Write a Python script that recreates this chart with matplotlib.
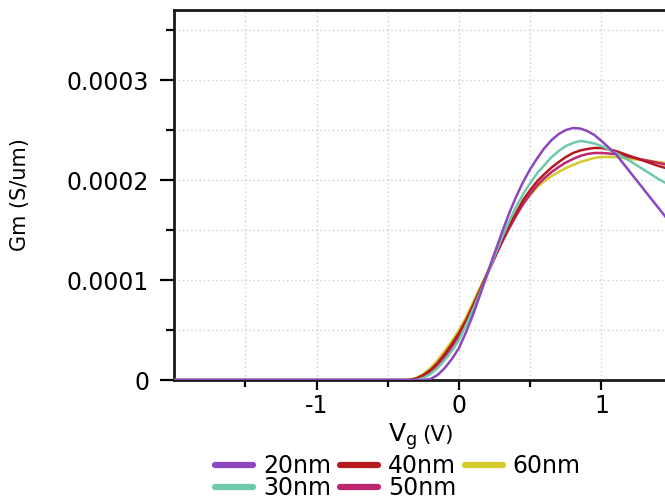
import matplotlib
matplotlib.use("Agg")
import matplotlib.pyplot as plt
from matplotlib.ticker import FixedLocator, FixedFormatter

plt.rcParams['font.family'] = ['DejaVu Sans']
plt.rcParams['axes.unicode_minus'] = False

# ---- data (Gm in units of 1e-4 S/um) ----
vg = [-2.0, -0.4, -0.35, -0.3, -0.25, -0.2, -0.15, -0.1, -0.05, 0.0, 0.05, 0.1, 0.15,
      0.2, 0.25, 0.3, 0.35, 0.4, 0.45, 0.5, 0.55, 0.6, 0.65, 0.7, 0.75, 0.8, 0.85, 0.9,
      0.95, 1.0, 1.1, 1.2, 1.3, 1.4, 1.5]
gm20 = [0, 0, 0, 0, 0, 0.01, 0.05, 0.12, 0.21, 0.32, 0.48, 0.66, 0.86, 1.07, 1.27, 1.47,
        1.66, 1.83, 1.98, 2.11, 2.22, 2.32, 2.40, 2.46, 2.50, 2.52, 2.515, 2.49, 2.45,
        2.39, 2.26, 2.08, 1.90, 1.72, 1.54]
gm30 = [0, 0, 0, 0, 0.02, 0.06, 0.12, 0.20, 0.29, 0.40, 0.55, 0.71, 0.88, 1.06, 1.24, 1.42,
        1.58, 1.73, 1.86, 1.97, 2.07, 2.15, 2.23, 2.29, 2.34, 2.37, 2.39, 2.38, 2.365,
        2.34, 2.27, 2.19, 2.10, 2.01, 1.93]
gm40 = [0, 0, 0, 0.015, 0.05, 0.10, 0.17, 0.26, 0.36, 0.47, 0.60, 0.75, 0.91, 1.07, 1.23, 1.39,
        1.54, 1.67, 1.80, 1.90, 1.99, 2.06, 2.125, 2.18, 2.23, 2.27, 2.295, 2.31, 2.32,
        2.32, 2.29, 2.24, 2.19, 2.14, 2.10]
gm50 = [0, 0, 0, 0.01, 0.04, 0.08, 0.15, 0.23, 0.33, 0.44, 0.58, 0.73, 0.89, 1.06, 1.22, 1.37,
        1.51, 1.64, 1.76, 1.86, 1.95, 2.02, 2.08, 2.13, 2.175, 2.21, 2.24, 2.26, 2.27,
        2.27, 2.26, 2.23, 2.20, 2.17, 2.14]
gm60 = [0, 0, 0, 0.02, 0.06, 0.12, 0.20, 0.29, 0.39, 0.50, 0.63, 0.78, 0.93, 1.08, 1.24, 1.39,
        1.53, 1.65, 1.76, 1.85, 1.93, 1.99, 2.04, 2.08, 2.12, 2.15, 2.18, 2.20, 2.22,
        2.23, 2.23, 2.21, 2.20, 2.18, 2.16]
SCALE = 1e-4

labels = ['20nm', '30nm', '40nm', '50nm', '60nm']
series = [gm20, gm30, gm40, gm50, gm60]
colors = ['#8C47C0', '#6CC9A9', '#B51A1E', '#BE2670', '#D6CB2C']

yticks = [0, 1e-4, 2e-4, 3e-4]
ytick_labels = ['0', '0.0001', '0.0002', '0.0003']
yminor = [0.5e-4, 1.5e-4, 2.5e-4, 3.5e-4]
xticks = [-1, 0, 1]
xtick_labels = ['-1', '0', '1']
xminor = [-1.5, -0.5, 0.5, 1.5]

W, H = 665, 499
fig = plt.figure(figsize=(W / 100, H / 100), dpi=100)
ax = fig.add_axes([174 / W, (H - 380) / H, (744 - 174) / W, (380 - 10) / H])

handles = []
for i, (lab, s, c) in enumerate(zip(labels, series, colors)):
    ln, = ax.plot(vg, [v * SCALE for v in s], color=c, lw=1.8, label=lab,
                  zorder=10 - i, solid_capstyle='round', solid_joinstyle='round')
    handles.append(ln)

ax.set_xlim(-2, 2)
ax.set_ylim(0, 3.7e-4)

ax.xaxis.set_major_locator(FixedLocator(xticks))
ax.xaxis.set_major_formatter(FixedFormatter(xtick_labels))
ax.xaxis.set_minor_locator(FixedLocator(xminor))
ax.yaxis.set_major_locator(FixedLocator(yticks))
ax.yaxis.set_major_formatter(FixedFormatter(ytick_labels))
ax.yaxis.set_minor_locator(FixedLocator(yminor))

ax.tick_params(axis='y', which='major', direction='out', length=10, width=1.6,
               labelsize=17, pad=8)
ax.tick_params(axis='y', which='minor', direction='out', length=6, width=1.6)
ax.tick_params(axis='x', which='major', direction='out', length=7, width=1.6,
               labelsize=17, pad=3)
ax.tick_params(axis='x', which='minor', direction='out', length=5, width=1.6)

ax.grid(True, which='both', color='#cfcfcf', linestyle=(0, (1, 2)), lw=1.0)
ax.set_axisbelow(True)
for sp in ax.spines.values():
    sp.set_linewidth(2)
    sp.set_color('#1a1a1a')

ax.set_ylabel('Gm (S/um)', fontsize=15)
ax.yaxis.set_label_coords((30 - 174) / 570, 0.5)

fig.text(388 / W, (H - 442) / H, r'V$_\mathregular{g}$', fontsize=18,
         ha='left', va='baseline')
fig.text(422 / W, (H - 441) / H, '(V)', fontsize=15.5, ha='left', va='baseline')

fig.legend(handles=handles, labels=labels, ncol=3, loc='center',
           bbox_to_anchor=(398 / W, (H - 477) / H), frameon=False,
           fontsize=17, handlelength=1.6, handletextpad=0.42, columnspacing=0.38,
           labelspacing=-0.1, borderpad=0, borderaxespad=0)
for lh in fig.legends[0].get_lines():
    lh.set_linewidth(4.5)

fig.savefig('out.png', dpi=100)
